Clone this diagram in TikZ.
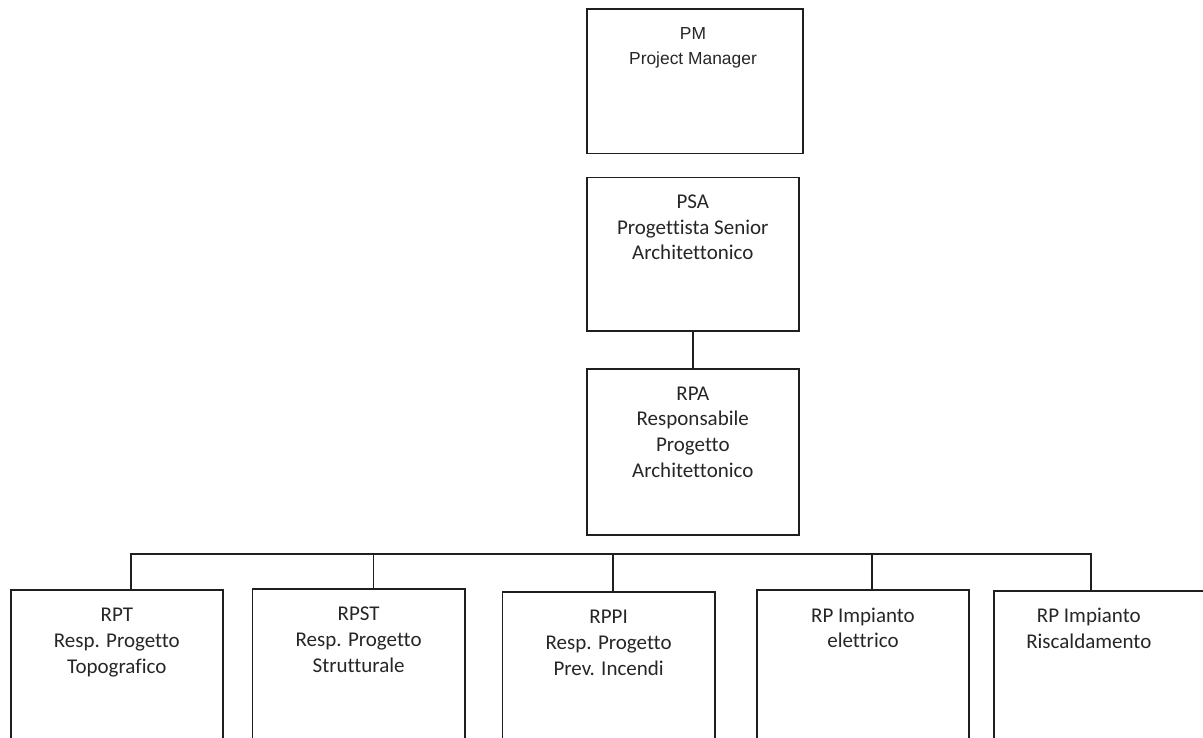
\documentclass[tikz,border=0pt]{standalone}
\usepackage{fontspec}
\setmainfont{Carlito}[Ligatures={NoCommon}]
\newfontfamily\arialf{Liberation Sans}
\begin{document}
\begin{tikzpicture}[x=1pt,y=-1pt,
  box/.style={draw=black!88,line width=1.6pt,rectangle,inner sep=0pt,anchor=north west},
  txt/.style={inner sep=0pt,align=center,text=black!85,anchor=north,
    font=\fontsize{21}{25.7}\selectfont},
  txtpm/.style={inner sep=0pt,align=center,text=black!85,anchor=north,
    font=\arialf\fontsize{17.4}{24.7}\selectfont},
  link/.style={draw=black!88,line width=1.6pt}]
\clip (0,0) rectangle (1203,738);
% upper boxes
\node[box,minimum width=216,minimum height=144.4] (pm) at (586,8.3) {};
\node[box,minimum width=212,minimum height=153.3] (psa) at (586,176.7) {};
\node[box,minimum width=212,minimum height=166] (rpa) at (586,368) {};
% lower boxes
\node[box,minimum width=212,minimum height=160] (rpt) at (10,589) {};
\node[box,minimum width=212.3,minimum height=160] (rpst) at (251.7,588) {};
\node[box,minimum width=212.3,minimum height=160] (rppi) at (501.7,591) {};
\node[box,minimum width=212.3,minimum height=160] (rpe) at (756,589.3) {};
\node[box,minimum width=230,minimum height=160] (rpr) at (993,590) {};
% texts
\node[txtpm] (pm-t) at ([xshift=-1.8pt,yshift=-15pt]pm.north) {\rule{0pt}{16pt}PM\\Project Manager};
\node[txt] (psa-t) at ([yshift=-15.6pt]psa.north) {\rule{0pt}{16pt}PSA\\Progettista Senior\\Architettonico};
\node[txt] (rpa-t) at ([yshift=-16pt]rpa.north) {\rule{0pt}{16pt}RPA\\Responsabile\\Progetto\\Architettonico};
\node[txt] (rpt-t) at ([yshift=-16.6pt]rpt.north) {\rule{0pt}{16pt}RPT\\Resp. Progetto\\Topografico};
\node[txt] (rpst-t) at ([yshift=-16.6pt]rpst.north) {\rule{0pt}{16pt}RPST\\Resp. Progetto\\Strutturale};
\node[txt] (rppi-t) at ([yshift=-16.6pt]rppi.north) {\rule{0pt}{16pt}RPPI\\Resp. Progetto\\Prev. Incendi};
\node[txt] (rpe-t) at ([yshift=-16.6pt]rpe.north) {\rule{0pt}{16pt}RP Impianto\\elettrico};
\node[txt] (rpr-t) at ([xshift=-20pt,yshift=-16.6pt]rpr.north) {\rule{0pt}{16pt}RP Impianto\\Riscaldamento};
% connectors
\coordinate (bus) at (0,553.7);
\draw[link] (psa.south) -- (rpa.north);
\path (rpr.north west) ++(97.7,0) coordinate (rpr-in);
\draw[link] ([xshift=14pt]rpt.north) |- (bus -| rpr-in) -- (rpr-in);
\draw[link] ([xshift=14.8pt]rpst.north) -- ([xshift=14.8pt]rpst.north |- bus);
\draw[link] ([xshift=4.6pt]rppi.north) -- ([xshift=4.6pt]rppi.north |- bus);
\draw[link] ([xshift=9pt]rpe.north) -- ([xshift=9pt]rpe.north |- bus);
\end{tikzpicture}
\end{document}
